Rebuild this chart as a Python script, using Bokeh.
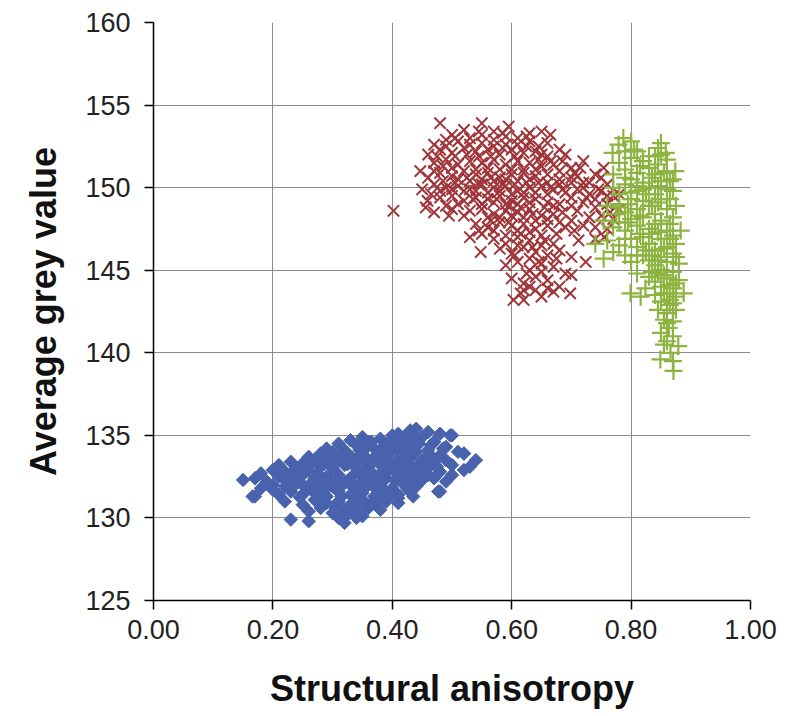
import math
from bokeh.plotting import figure
from bokeh.models import Range1d, FixedTicker, NumeralTickFormatter, ColumnDataSource
from bokeh.embed import file_html
from bokeh.resources import INLINE

# Structural anisotropy vs average grey value, three groups of samples
blue_pts = [
    (0.43, 135.3), (0.44, 135.4), (0.46, 135.2), (0.41, 135.1),
    (0.33, 134.7), (0.35, 134.9), (0.38, 134.8), (0.40, 135.0), (0.42, 134.9), (0.45, 134.9), (0.48, 135.1), (0.50, 135.0),
    (0.29, 134.2), (0.31, 134.5), (0.34, 134.4), (0.36, 134.6), (0.39, 134.5), (0.41, 134.6), (0.43, 134.5), (0.47, 134.6), (0.49, 134.3),
    (0.26, 133.7), (0.28, 133.9), (0.30, 134.0), (0.32, 134.1), (0.35, 134.0), (0.37, 134.2), (0.40, 134.1), (0.42, 134.2), (0.44, 134.0),
    (0.46, 134.1), (0.48, 133.8), (0.51, 134.0), (0.52, 133.9),
    (0.21, 133.2), (0.23, 133.4), (0.25, 133.3), (0.27, 133.5), (0.29, 133.6), (0.31, 133.5), (0.33, 133.7), (0.35, 133.5), (0.37, 133.6),
    (0.39, 133.7), (0.41, 133.5), (0.43, 133.6), (0.45, 133.5), (0.47, 133.4), (0.49, 133.5), (0.50, 133.2), (0.54, 133.5), (0.53, 133.1),
    (0.18, 132.7), (0.20, 132.9), (0.22, 132.8), (0.24, 133.0), (0.26, 132.9), (0.28, 133.1), (0.30, 133.0), (0.32, 133.2), (0.34, 133.0),
    (0.36, 133.1), (0.38, 133.2), (0.40, 133.0), (0.42, 133.1), (0.44, 132.9), (0.46, 133.0), (0.48, 132.8), (0.50, 132.6), (0.52, 132.9),
    (0.15, 132.3), (0.17, 132.4), (0.19, 132.2), (0.21, 132.5), (0.23, 132.3), (0.25, 132.6), (0.27, 132.4), (0.29, 132.5), (0.31, 132.6),
    (0.33, 132.4), (0.35, 132.5), (0.37, 132.6), (0.39, 132.4), (0.41, 132.6), (0.43, 132.5), (0.45, 132.3), (0.47, 132.4),
    (0.18, 131.8), (0.20, 132.0), (0.22, 131.9), (0.24, 132.1), (0.26, 131.8), (0.28, 132.0), (0.30, 131.9), (0.32, 132.1), (0.34, 131.9),
    (0.36, 132.0), (0.38, 132.1), (0.40, 131.8), (0.42, 132.0), (0.44, 131.9), (0.48, 131.6),
    (0.17, 131.3), (0.21, 131.4), (0.23, 131.6), (0.25, 131.4), (0.27, 131.5), (0.29, 131.3), (0.31, 131.6), (0.33, 131.4), (0.35, 131.5),
    (0.37, 131.3), (0.39, 131.5), (0.41, 131.4), (0.43, 131.6),
    (0.22, 131.0), (0.25, 130.8), (0.27, 131.1), (0.29, 130.9), (0.31, 131.0), (0.33, 130.8), (0.35, 131.1), (0.37, 130.9), (0.39, 131.0), (0.41, 130.9),
    (0.26, 130.4), (0.28, 130.6), (0.30, 130.3), (0.32, 130.5), (0.34, 130.4), (0.36, 130.6), (0.38, 130.5),
    (0.23, 129.9), (0.26, 129.8), (0.31, 130.0), (0.32, 129.7), (0.35, 130.1),
    (0.285, 133.25), (0.305, 132.75), (0.325, 133.25), (0.345, 132.75), (0.365, 133.35), (0.385, 132.85), (0.405, 133.35), (0.425, 132.75),
    (0.445, 133.25), (0.305, 131.75), (0.325, 132.25), (0.345, 131.75), (0.365, 132.25), (0.385, 131.75), (0.405, 132.25), (0.425, 131.75),
    (0.445, 132.25), (0.355, 134.25), (0.375, 133.85), (0.395, 134.35), (0.415, 133.85), (0.335, 131.25), (0.355, 130.75), (0.375, 131.65),
    (0.265, 132.15), (0.245, 131.25), (0.465, 133.75), (0.455, 132.75), (0.477, 131.6), (0.52, 133.9), (0.497, 135.0), (0.166, 131.3),
    (0.30, 133.45), (0.34, 133.55), (0.38, 134.0), (0.42, 133.35), (0.46, 132.6), (0.31, 132.25), (0.35, 132.2), (0.39, 132.75),
    (0.43, 132.3), (0.29, 131.8), (0.33, 132.0), (0.37, 131.9), (0.41, 131.2), (0.28, 131.3), (0.24, 132.5), (0.22, 132.3),
    (0.20, 131.7), (0.26, 133.1),
    (0.275, 132.7), (0.295, 132.2), (0.315, 133.8), (0.335, 133.3), (0.355, 132.9), (0.375, 132.4), (0.395, 133.1), (0.415, 132.3),
    (0.435, 133.0), (0.455, 133.6), (0.475, 133.1), (0.395, 131.3), (0.415, 132.8), (0.435, 131.3), (0.365, 134.6), (0.385, 134.3),
    (0.405, 134.7), (0.425, 134.2), (0.445, 134.5), (0.465, 134.4), (0.345, 134.1), (0.325, 133.9), (0.315, 131.3), (0.345, 131.0),
    (0.365, 130.9), (0.385, 131.2), (0.335, 132.6), (0.355, 133.7), (0.395, 133.9), (0.435, 134.9), (0.485, 134.2), (0.49, 132.2),
    (0.25, 132.0), (0.27, 131.9), (0.23, 132.7), (0.285, 130.95), (0.305, 130.6), (0.325, 130.2), (0.34, 130.0),
]

red_pts = [
    (0.48, 153.9), (0.55, 153.9), (0.595, 153.7), (0.52, 153.5), (0.57, 153.4), (0.65, 153.4), (0.665, 153.2), (0.50, 153.2),
    (0.47, 152.6), (0.49, 152.9), (0.51, 152.8), (0.53, 153.0), (0.55, 152.7), (0.57, 152.9), (0.59, 152.6), (0.61, 153.0), (0.63, 152.8),
    (0.645, 152.5), (0.66, 152.7), (0.68, 152.3),
    (0.46, 152.0), (0.48, 152.3), (0.50, 152.1), (0.52, 152.4), (0.54, 152.2), (0.56, 152.3), (0.58, 152.0), (0.60, 152.3), (0.62, 152.1),
    (0.64, 152.2), (0.66, 151.9), (0.69, 152.0), (0.72, 151.6),
    (0.447, 151.0), (0.47, 151.5), (0.49, 151.7), (0.51, 151.4), (0.53, 151.6), (0.55, 151.5), (0.57, 151.7), (0.59, 151.4), (0.61, 151.6),
    (0.63, 151.5), (0.65, 151.3), (0.67, 151.4), (0.70, 151.2), (0.715, 151.2), (0.754, 151.2), (0.74, 150.8),
    (0.46, 150.6), (0.48, 150.9), (0.50, 150.7), (0.52, 151.0), (0.54, 150.8), (0.56, 150.9), (0.58, 150.6), (0.60, 150.8), (0.62, 150.9),
    (0.64, 150.7), (0.66, 150.8), (0.68, 150.5), (0.70, 150.6), (0.72, 150.3), (0.76, 150.2),
    (0.45, 149.9), (0.47, 150.2), (0.49, 150.0), (0.51, 150.1), (0.53, 149.9), (0.55, 150.2), (0.57, 150.0), (0.59, 150.1), (0.61, 149.8),
    (0.63, 150.0), (0.65, 150.1), (0.67, 149.9), (0.69, 149.7), (0.71, 149.9), (0.73, 149.6), (0.75, 149.8), (0.77, 149.5),
    (0.459, 149.2), (0.48, 149.4), (0.50, 149.5), (0.52, 149.2), (0.54, 149.4), (0.56, 149.3), (0.58, 149.5), (0.60, 149.2), (0.62, 149.4),
    (0.64, 149.3), (0.66, 149.1), (0.68, 149.0), (0.70, 148.9), (0.72, 149.1), (0.74, 148.8), (0.76, 149.0), (0.78, 148.7),
    (0.402, 148.6), (0.456, 148.8), (0.47, 148.5), (0.50, 148.7), (0.53, 148.6), (0.55, 148.7), (0.57, 148.4), (0.59, 148.6), (0.61, 148.5),
    (0.63, 148.7), (0.65, 148.3), (0.67, 148.4), (0.75, 148.3), (0.77, 148.1),
    (0.54, 147.8), (0.56, 147.6), (0.58, 147.9), (0.60, 147.7), (0.62, 147.8), (0.64, 147.5), (0.66, 147.7), (0.69, 147.6), (0.76, 147.5),
    (0.53, 147.0), (0.55, 147.2), (0.57, 146.9), (0.59, 147.1), (0.61, 147.0), (0.63, 146.8), (0.65, 147.1), (0.67, 146.6), (0.712, 146.8),
    (0.74, 146.9),
    (0.548, 146.1), (0.58, 146.3), (0.60, 146.0), (0.62, 146.4), (0.64, 146.1), (0.66, 145.9), (0.68, 146.2), (0.70, 145.8),
    (0.59, 145.3), (0.61, 145.5), (0.63, 145.0), (0.65, 145.4), (0.67, 145.2), (0.69, 144.8), (0.724, 145.5),
    (0.60, 144.5), (0.62, 144.2), (0.64, 144.6), (0.66, 144.4), (0.68, 144.0), (0.70, 144.7),
    (0.603, 143.2), (0.615, 143.6), (0.62, 143.2), (0.64, 143.8), (0.698, 143.6), (0.65, 143.4),
    (0.51, 150.5), (0.53, 150.4), (0.55, 150.5), (0.57, 150.4), (0.59, 150.5), (0.61, 150.4), (0.63, 150.5), (0.62, 149.7), (0.64, 149.7),
    (0.60, 149.6), (0.56, 149.7), (0.52, 149.8), (0.54, 151.1), (0.58, 151.1), (0.62, 151.1), (0.66, 150.3), (0.68, 150.2), (0.70, 150.3),
    (0.72, 150.0),
    (0.49, 152.5), (0.53, 152.6), (0.57, 152.5), (0.61, 152.6), (0.65, 152.0), (0.63, 153.3), (0.59, 153.1), (0.55, 153.2),
    (0.47, 151.0), (0.50, 151.2), (0.56, 151.2), (0.60, 151.1), (0.64, 151.1), (0.68, 151.0), (0.71, 150.7), (0.73, 150.3), (0.75, 150.6),
    (0.48, 149.8), (0.50, 149.9), (0.54, 149.8), (0.58, 149.8), (0.66, 149.6), (0.70, 149.4), (0.74, 149.3), (0.76, 149.5), (0.78, 149.6),
    (0.49, 148.9), (0.51, 149.0), (0.55, 149.0), (0.57, 149.1), (0.59, 149.0), (0.61, 149.0), (0.63, 149.1), (0.67, 148.9), (0.71, 148.6),
    (0.73, 148.2), (0.52, 148.3), (0.56, 148.2), (0.58, 148.2), (0.60, 148.3), (0.62, 148.2), (0.64, 148.0), (0.66, 148.1), (0.68, 147.9),
    (0.70, 148.0), (0.72, 147.7), (0.74, 147.6), (0.57, 147.4), (0.61, 147.4), (0.63, 147.3), (0.65, 146.5), (0.59, 146.6), (0.61, 146.5),
    (0.63, 145.7), (0.65, 144.9), (0.67, 143.7), (0.62, 143.8),
    (0.485, 151.3), (0.505, 151.9), (0.525, 152.0), (0.545, 151.9), (0.565, 151.9), (0.585, 152.4), (0.605, 151.9), (0.625, 152.5),
    (0.645, 151.7), (0.665, 151.6), (0.685, 151.6), (0.505, 150.3), (0.525, 150.6), (0.545, 150.2), (0.565, 150.6), (0.585, 150.2),
    (0.605, 150.2), (0.625, 150.3), (0.645, 150.3), (0.665, 150.0), (0.685, 149.9), (0.535, 149.3), (0.575, 149.3), (0.595, 148.9),
    (0.615, 148.8), (0.635, 148.4), (0.655, 148.8), (0.685, 148.5), (0.705, 147.4), (0.675, 147.2), (0.655, 146.8), (0.595, 147.9),
    (0.615, 147.2), (0.635, 146.4), (0.605, 145.9), (0.645, 145.5), (0.625, 144.8), (0.675, 145.7), (0.66, 143.9), (0.63, 144.0),
    (0.545, 147.4), (0.565, 148.0), (0.485, 150.4), (0.465, 149.6), (0.495, 148.3), (0.475, 151.9), (0.505, 153.0), (0.545, 153.4),
    (0.585, 153.3), (0.625, 153.1), (0.705, 150.9), (0.725, 149.4), (0.745, 149.9), (0.765, 148.5), (0.755, 147.0),
]

green_pts = [
    (0.787, 153.0), (0.779, 152.6), (0.85, 152.7), (0.79, 152.2), (0.845, 152.4), (0.858, 152.1),
    (0.769, 152.1), (0.80, 151.8), (0.82, 151.6), (0.84, 151.9), (0.86, 151.7), (0.85, 152.0), (0.78, 151.5),
    (0.77, 150.8), (0.79, 151.1), (0.81, 150.9), (0.83, 151.2), (0.84, 150.8), (0.86, 151.0), (0.874, 151.0), (0.80, 150.5), (0.82, 150.3),
    (0.85, 150.4), (0.87, 150.5),
    (0.77, 150.0), (0.78, 149.6), (0.79, 150.2), (0.81, 149.8), (0.83, 150.0), (0.84, 149.6), (0.86, 149.9), (0.87, 149.8), (0.80, 149.3),
    (0.82, 149.2), (0.85, 149.3),
    (0.76, 148.9), (0.78, 148.8), (0.79, 148.5), (0.81, 148.7), (0.83, 148.9), (0.84, 148.4), (0.86, 148.7), (0.875, 148.9), (0.80, 148.1),
    (0.82, 148.2), (0.85, 148.0), (0.87, 148.2),
    (0.754, 148.0), (0.77, 147.6), (0.78, 147.9), (0.79, 147.4), (0.81, 147.7), (0.83, 147.5), (0.84, 147.8), (0.86, 147.4), (0.883, 147.4),
    (0.80, 146.9), (0.82, 147.0), (0.85, 146.9), (0.87, 147.1),
    (0.76, 146.8), (0.74, 146.6), (0.78, 146.5), (0.81, 146.4), (0.83, 146.6), (0.84, 146.2), (0.86, 146.4), (0.875, 146.6), (0.82, 145.9),
    (0.85, 145.8), (0.87, 146.0),
    (0.754, 145.7), (0.77, 146.1), (0.79, 145.9), (0.80, 145.5), (0.83, 145.6), (0.84, 145.3), (0.86, 145.5), (0.88, 145.4), (0.85, 145.0),
    (0.87, 144.9),
    (0.81, 144.8), (0.83, 144.6), (0.84, 144.3), (0.86, 144.5), (0.88, 144.4), (0.85, 144.0), (0.87, 143.9),
    (0.799, 143.6), (0.816, 143.4), (0.824, 143.9), (0.84, 143.5), (0.86, 143.6), (0.888, 143.6), (0.85, 143.1), (0.87, 143.0),
    (0.845, 142.6), (0.86, 142.4), (0.875, 142.6), (0.855, 142.0), (0.87, 141.9),
    (0.863, 141.5), (0.85, 141.2), (0.87, 141.0), (0.86, 140.7),
    (0.866, 140.0), (0.879, 140.4), (0.849, 139.6), (0.871, 138.9),
    (0.815, 151.3), (0.835, 150.6), (0.825, 149.6), (0.835, 148.9), (0.815, 148.3), (0.835, 147.2), (0.825, 146.2), (0.845, 145.6),
    (0.855, 144.7), (0.865, 143.2), (0.805, 152.3), (0.795, 149.0), (0.855, 150.9),
    (0.80, 152.8), (0.81, 152.2), (0.83, 151.9), (0.845, 151.4), (0.79, 150.6), (0.81, 150.1), (0.845, 150.1), (0.865, 150.4),
    (0.78, 149.0), (0.80, 149.7), (0.82, 149.9), (0.845, 149.1), (0.865, 149.3), (0.775, 148.4), (0.795, 147.9), (0.815, 147.2),
    (0.845, 147.3), (0.865, 147.8), (0.79, 146.9), (0.81, 145.9), (0.835, 145.9), (0.855, 146.3), (0.865, 146.9), (0.875, 145.8),
    (0.835, 144.9), (0.845, 144.8), (0.865, 144.1), (0.875, 144.2), (0.855, 143.6), (0.875, 143.4), (0.86, 141.8), (0.865, 142.9),
    (0.855, 140.5), (0.87, 139.5),
]

x_ticks = [0.0, 0.2, 0.4, 0.6, 0.8, 1.0]
y_ticks = [125, 130, 135, 140, 145, 150, 155, 160]

BLUE = "#4862AE"
RED = "#A0353A"
GREEN = "#8DB441"


def source(points):
    xs, ys = zip(*points)
    return ColumnDataSource(dict(x=list(xs), y=list(ys)))


p = figure(
    width=787, height=716,
    output_backend="svg", toolbar_location=None,
    x_range=Range1d(0.0, 1.0), y_range=Range1d(125, 160),
    min_border_left=153, min_border_right=37, min_border_top=22, min_border_bottom=116,
)
p.outline_line_color = None
p.background_fill_color = "white"
p.border_fill_color = "white"

# rotated squares give evenly proportioned diamond markers
p.scatter("x", "y", source=source(blue_pts), marker="square", size=9.5, angle=math.pi / 4,
          fill_color=BLUE, line_color=BLUE, line_width=1)
p.scatter("x", "y", source=source(red_pts), marker="x", size=16,
          line_color=RED, line_width=2)
p.scatter("x", "y", source=source(green_pts), marker="cross", size=18,
          line_color=GREEN, line_width=2.2)

for grid, ticks in ((p.xgrid, x_ticks), (p.ygrid, y_ticks)):
    grid.ticker = FixedTicker(ticks=ticks)
    grid.grid_line_color = "#8c8c8c"
    grid.grid_line_width = 1

p.xaxis.ticker = FixedTicker(ticks=x_ticks)
p.yaxis.ticker = FixedTicker(ticks=y_ticks)
p.xaxis.formatter = NumeralTickFormatter(format="0.00")
p.yaxis.formatter = NumeralTickFormatter(format="0")

for ax in (p.xaxis, p.yaxis):
    ax.axis_line_color = "black"
    ax.axis_line_width = 1.5
    ax.major_tick_line_color = "black"
    ax.major_tick_line_width = 1.5
    ax.major_tick_in = 0
    ax.major_tick_out = 9
    ax.minor_tick_line_color = None
    ax.major_label_text_font = "Liberation Sans"
    ax.major_label_text_font_size = "27px"
    ax.major_label_text_color = "#222222"
    ax.axis_label_text_font = "Liberation Sans"
    ax.axis_label_text_font_size = "36px"
    ax.axis_label_text_font_style = "bold"
    ax.axis_label_text_color = "#111111"

p.xaxis.axis_label = "Structural anisotropy"
p.yaxis.axis_label = "Average grey value"
p.xaxis.major_label_standoff = 10
p.yaxis.major_label_standoff = 14
p.xaxis.axis_label_standoff = 26
p.yaxis.axis_label_standoff = 18

open("out.html", "w").write(file_html(p, INLINE))
